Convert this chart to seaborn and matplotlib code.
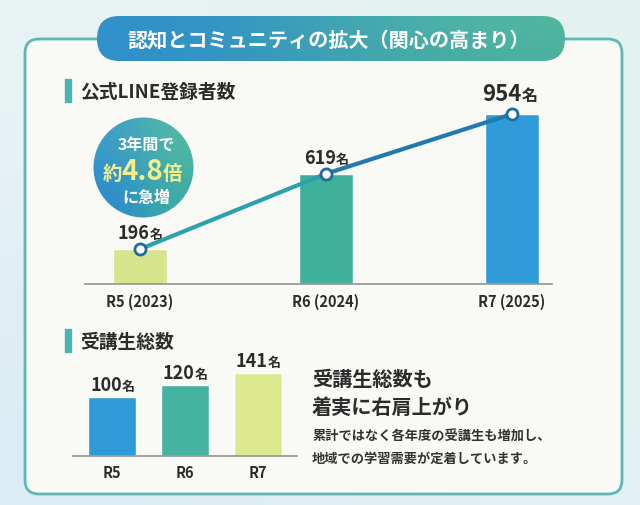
import matplotlib
matplotlib.use("Agg")
import matplotlib.pyplot as plt
import numpy as np
import seaborn as sns
from matplotlib.patches import FancyBboxPatch, Circle
from matplotlib.colors import to_rgb

# data
line_years = ["R5 (2023)", "R6 (2024)", "R7 (2025)"]
line_counts = [196, 619, 954]
line_colors = ["#d6e58c", "#3fb19b", "#2f9bd8"]

student_years = ["R5", "R6", "R7"]
student_counts = [100, 120, 141]
student_colors = ["#2f9bd6", "#45b3a2", "#dde98e"]

title = "認知とコミュニティの拡大（関心の高まり）"
line_header = "公式LINE登録者数"
student_header = "受講生総数"

sns.set_style("white")
plt.rcParams['font.family'] = ['Noto Sans CJK JP', 'DejaVu Sans']

W, H = 640, 506
fig = plt.figure(figsize=(6.4, 5.06), dpi=100)
DARK = "#2b2b2b"


def px_axes(x0, y0, x1, y1):
    return fig.add_axes([x0 / W, 1 - y1 / H, (x1 - x0) / W, (y1 - y0) / H])


def gradient(ax, colors, extent, clip=None):
    c = np.array([[to_rgb(colors[0]), to_rgb(colors[1])],
                  [to_rgb(colors[2]), to_rgb(colors[3])]])
    im = ax.imshow(c, extent=extent, interpolation="bicubic", aspect="auto", zorder=2)
    if clip is not None:
        im.set_clip_path(clip)
    return im


# background layer in pixel coordinates
bg = fig.add_axes([0, 0, 1, 1])
bg.set_xlim(0, W)
bg.set_ylim(H, 0)
bg.axis("off")
bg.set_zorder(-1)
bg.imshow(np.array([[to_rgb("#e9f3f4"), to_rgb("#e3f3ee")],
                    [to_rgb("#dbecf5"), to_rgb("#e2f1f1")]]),
          extent=(0, W, H, 0), interpolation="bicubic", aspect="auto", zorder=0)

panel = FancyBboxPatch((25, 40), 597, 455, boxstyle="round,pad=0,rounding_size=14",
                       fc="#f9f9f5", ec="#5db8b3", lw=2, zorder=1)
bg.add_patch(panel)

# title pill
pill = FancyBboxPatch((97, 17), 468, 45, boxstyle="round,pad=0,rounding_size=22.5",
                      fc="none", ec="none", zorder=2)
bg.add_patch(pill)
gradient(bg, ["#2f8fcb", "#52b8a0", "#2f8fcb", "#4cb39c"], (97, 565, 62, 17), clip=pill)
bg.text(329, 40, title, color="white", fontsize=14.5, fontweight="bold",
        ha="center", va="center", zorder=3)

# section headers
for y0, text in [(80, line_header), (330, student_header)]:
    bg.add_patch(plt.Rectangle((65, y0), 6, 23, color="#49b5b0", zorder=2))
    bg.text(80, y0 + 12, text, color=DARK, fontsize=13.5, fontweight="bold",
            ha="left", va="center", zorder=3)

# badge
badge = Circle((143.5, 168.5), 50, fc="none", ec="none", zorder=2)
bg.add_patch(badge)
gradient(bg, ["#3f9fc6", "#53b9a4", "#2a88d0", "#3eae9f"], (93, 194, 219, 118), clip=badge)
bg.text(146, 145, "3年間で", color="white", fontsize=11.5, fontweight="bold",
        ha="center", va="center", zorder=3)
yel = "#f3ee8c"
bg.text(122, 180, "約", color=yel, fontsize=14, fontweight="bold", ha="right", va="baseline", zorder=3)
bg.text(142.5, 180, "4.8", color=yel, fontsize=20, fontweight="bold", ha="center", va="baseline", zorder=3)
bg.text(163, 180, "倍", color=yel, fontsize=14, fontweight="bold", ha="left", va="baseline", zorder=3)
bg.text(146, 198, "に急増", color="white", fontsize=11.5, fontweight="bold",
        ha="center", va="center", zorder=3)

# right-hand commentary
bg.text(312, 380, "受講生総数も", color=DARK, fontsize=14.5, fontweight="bold", va="center", zorder=3)
bg.text(312, 407, "着実に右肩上がり", color=DARK, fontsize=14.5, fontweight="bold", va="center", zorder=3)
bg.text(312, 437, "累計ではなく各年度の受講生も増加し、", color="#333333", fontsize=9.5,
        fontweight="bold", va="center", zorder=3)
bg.text(312, 459, "地域での学習需要が定着しています。", color="#333333", fontsize=9.5,
        fontweight="bold", va="center", zorder=3)


def style_axis(ax, pad, size):
    sns.despine(ax=ax, left=True)
    ax.spines["bottom"].set_color("#9a9a9a")
    ax.spines["bottom"].set_linewidth(1.3)
    ax.set_yticks([])
    ax.set_xlabel("")
    ax.set_ylabel("")
    ax.patch.set_alpha(0)
    ax.tick_params(axis="x", length=0, pad=pad, labelsize=size, labelcolor=DARK)
    for t in ax.get_xticklabels():
        t.set_fontweight("bold")


def value_label(ax, i, v, dy, size, shift):
    ax.annotate(str(v), (i, v), xytext=(shift, dy), textcoords="offset points",
                ha="right", va="baseline", fontsize=size, fontweight="bold", color=DARK)
    ax.annotate("名", (i, v), xytext=(shift, dy), textcoords="offset points",
                ha="left", va="baseline", fontsize=size * 0.72, fontweight="bold", color=DARK)


# top chart: LINE registrations
ax1 = px_axes(85, 60, 552, 285)
sns.barplot(x=line_years, y=line_counts, hue=line_years, palette=line_colors,
            width=0.29, saturation=1, legend=False, ax=ax1)
ax1.set_xlim(-0.296, 2.215)
ax1.set_ylim(0, 1263)
xs = np.arange(len(line_counts))
ax1.plot(xs[:2], line_counts[:2], color="#2e9fac", lw=3, solid_capstyle="round", zorder=4)
ax1.plot(xs[1:], line_counts[1:], color="#2279ad", lw=3, solid_capstyle="round", zorder=4)
ax1.plot(xs, line_counts, "o", ms=8, mfc="white", mec="#1f6b9c", mew=2, zorder=5)
style_axis(ax1, 6, 10.5)
for i, v in enumerate(line_counts):
    big = v == max(line_counts)
    value_label(ax1, i, v, 10 if big else 8, 16 if big else 13, 7)

# bottom chart: students
ax2 = px_axes(73, 340, 297, 457)
sns.barplot(x=student_years, y=student_counts, hue=student_years, palette=student_colors,
            width=0.67, saturation=1, legend=False, ax=ax2)
ax2.set_xlim(-0.534, 2.534)
ax2.set_ylim(0, 198)
style_axis(ax2, 6, 10.5)
for i, v in enumerate(student_counts):
    value_label(ax2, i, v, 5, 13, 7)

fig.savefig("out.png", dpi=100)
